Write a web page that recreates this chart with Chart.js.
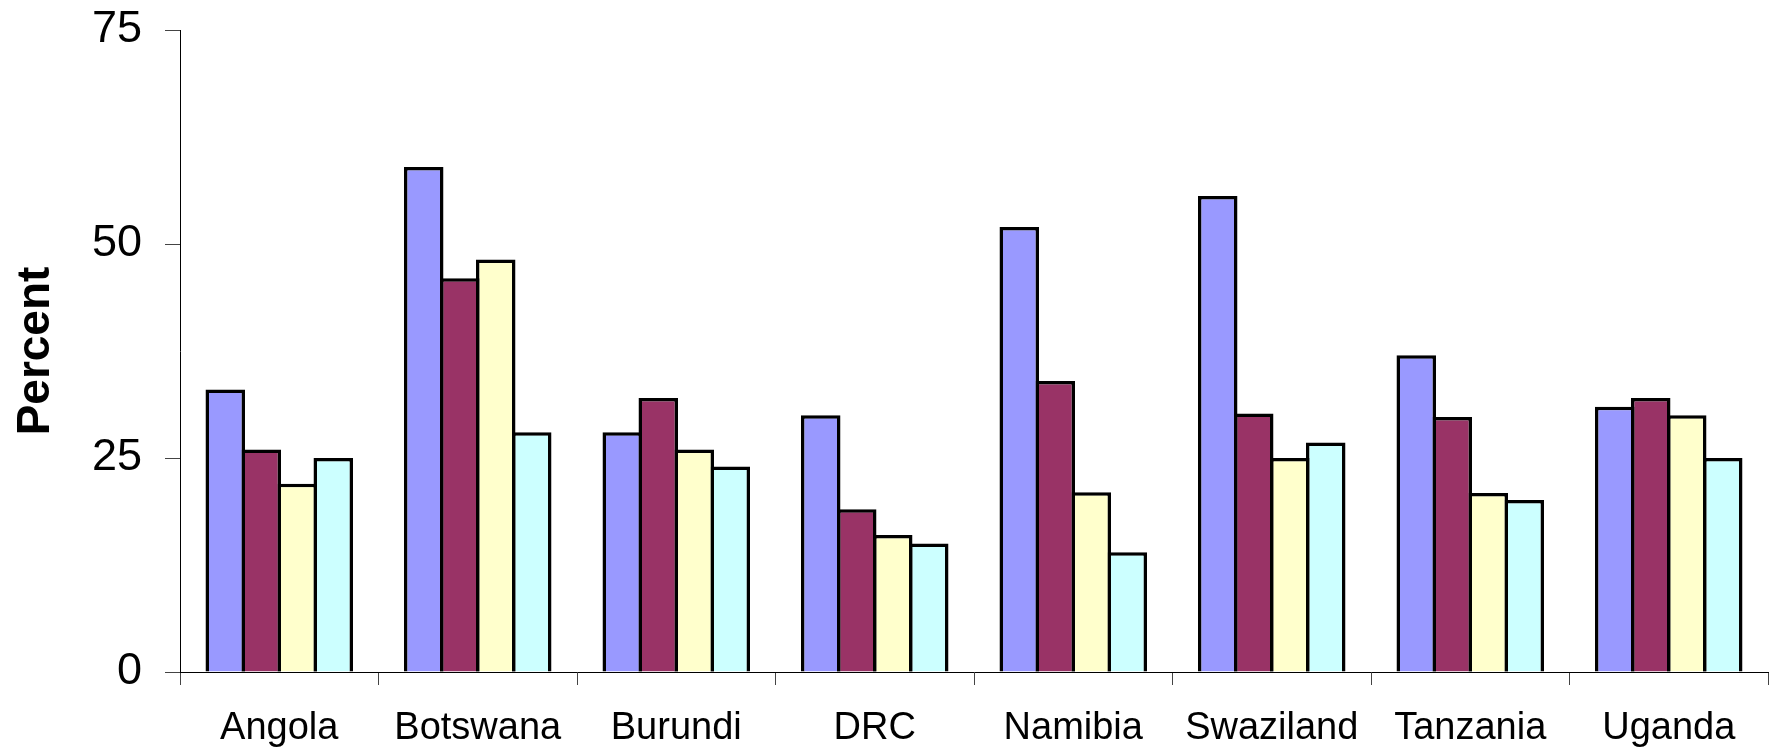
<!DOCTYPE html>
<html>
<head>
<meta charset="utf-8">
<title>Percent by country</title>
<script src="https://cdn.jsdelivr.net/npm/chart.js@4/dist/chart.umd.min.js"></script>
<style>
  html, body { margin: 0; padding: 0; background: #ffffff; }
  #wrap { width: 1779px; height: 749px; }
</style>
</head>
<body>
<div id="wrap"><canvas id="chart" width="1779" height="749"></canvas></div>
<script>
// Countries along the x axis
const countries = ['Angola', 'Botswana', 'Burundi', 'DRC', 'Namibia', 'Swaziland', 'Tanzania', 'Uganda'];

// Four series, one value per country (percent)
const series1 = [33, 59, 28, 30, 52, 55.6, 37, 31];
const series2 = [26, 46, 32, 19, 34, 30.2, 29.8, 32];
const series3 = [22, 48.2, 26, 16, 21, 25, 20.9, 30];
const series4 = [25, 28, 24, 15, 14, 26.8, 20.1, 25];

const seriesNames = ['Series 1', 'Series 2', 'Series 3', 'Series 4'];
const seriesColors = ['#9999FF', '#993366', '#FFFFCC', '#CCFFFF'];

// Value axis ticks
const yTicks = [0, 25, 50, 75];

const fontFamily = '"Liberation Sans", Arial, Helvetica, sans-serif';

const outline = 3.5;
const datasets = [series1, series2, series3, series4].map((values, i) => ({
  label: seriesNames[i],
  data: values,
  backgroundColor: seriesColors[i],
  borderColor: '#000000',
  borderWidth: outline,
  // bars overlap by one outline width so neighbours share a single edge
  barPercentage: (36 + outline) / 36,
  categoryPercentage: 0.7255
}));

new Chart(document.getElementById('chart'), {
  type: 'bar',
  data: { labels: countries, datasets: datasets },
  options: {
    responsive: false,
    animation: false,
    devicePixelRatio: 1,
    layout: { padding: { left: 0, top: 0, right: 11, bottom: 0 } },
    plugins: {
      legend: { display: false },
      tooltip: { enabled: false }
    },
    scales: {
      x: {
        grid: {
          offset: true,
          drawOnChartArea: false,
          drawTicks: true,
          tickLength: 13,
          color: '#444444',
          lineWidth: 1
        },
        border: { display: true, color: '#000000', width: 1 },
        ticks: {
          color: '#000000',
          font: { family: fontFamily, size: 38 },
          padding: 21,
          maxRotation: 0,
          autoSkip: false
        },
        afterFit(scale) { scale.height = 77; }
      },
      y: {
        min: yTicks[0],
        max: yTicks[yTicks.length - 1],
        afterBuildTicks(scale) { scale.ticks = yTicks.map(v => ({ value: v })); },
        grid: {
          drawOnChartArea: false,
          drawTicks: true,
          tickLength: 15,
          color: '#444444',
          lineWidth: 1
        },
        border: { display: true, color: '#000000', width: 1 },
        ticks: {
          color: '#000000',
          font: { family: fontFamily, size: 45, lineHeight: 1 },
          padding: 23
        },
        title: {
          display: true,
          text: 'Percent',
          color: '#000000',
          font: { family: fontFamily, size: 46, weight: 'bold', lineHeight: 1 },
          padding: { top: 13, bottom: 0 }
        },
        afterFit(scale) {
          scale.width = 180;
          scale.paddingTop = 30;
        }
      }
    }
  }
});
</script>
</body>
</html>
